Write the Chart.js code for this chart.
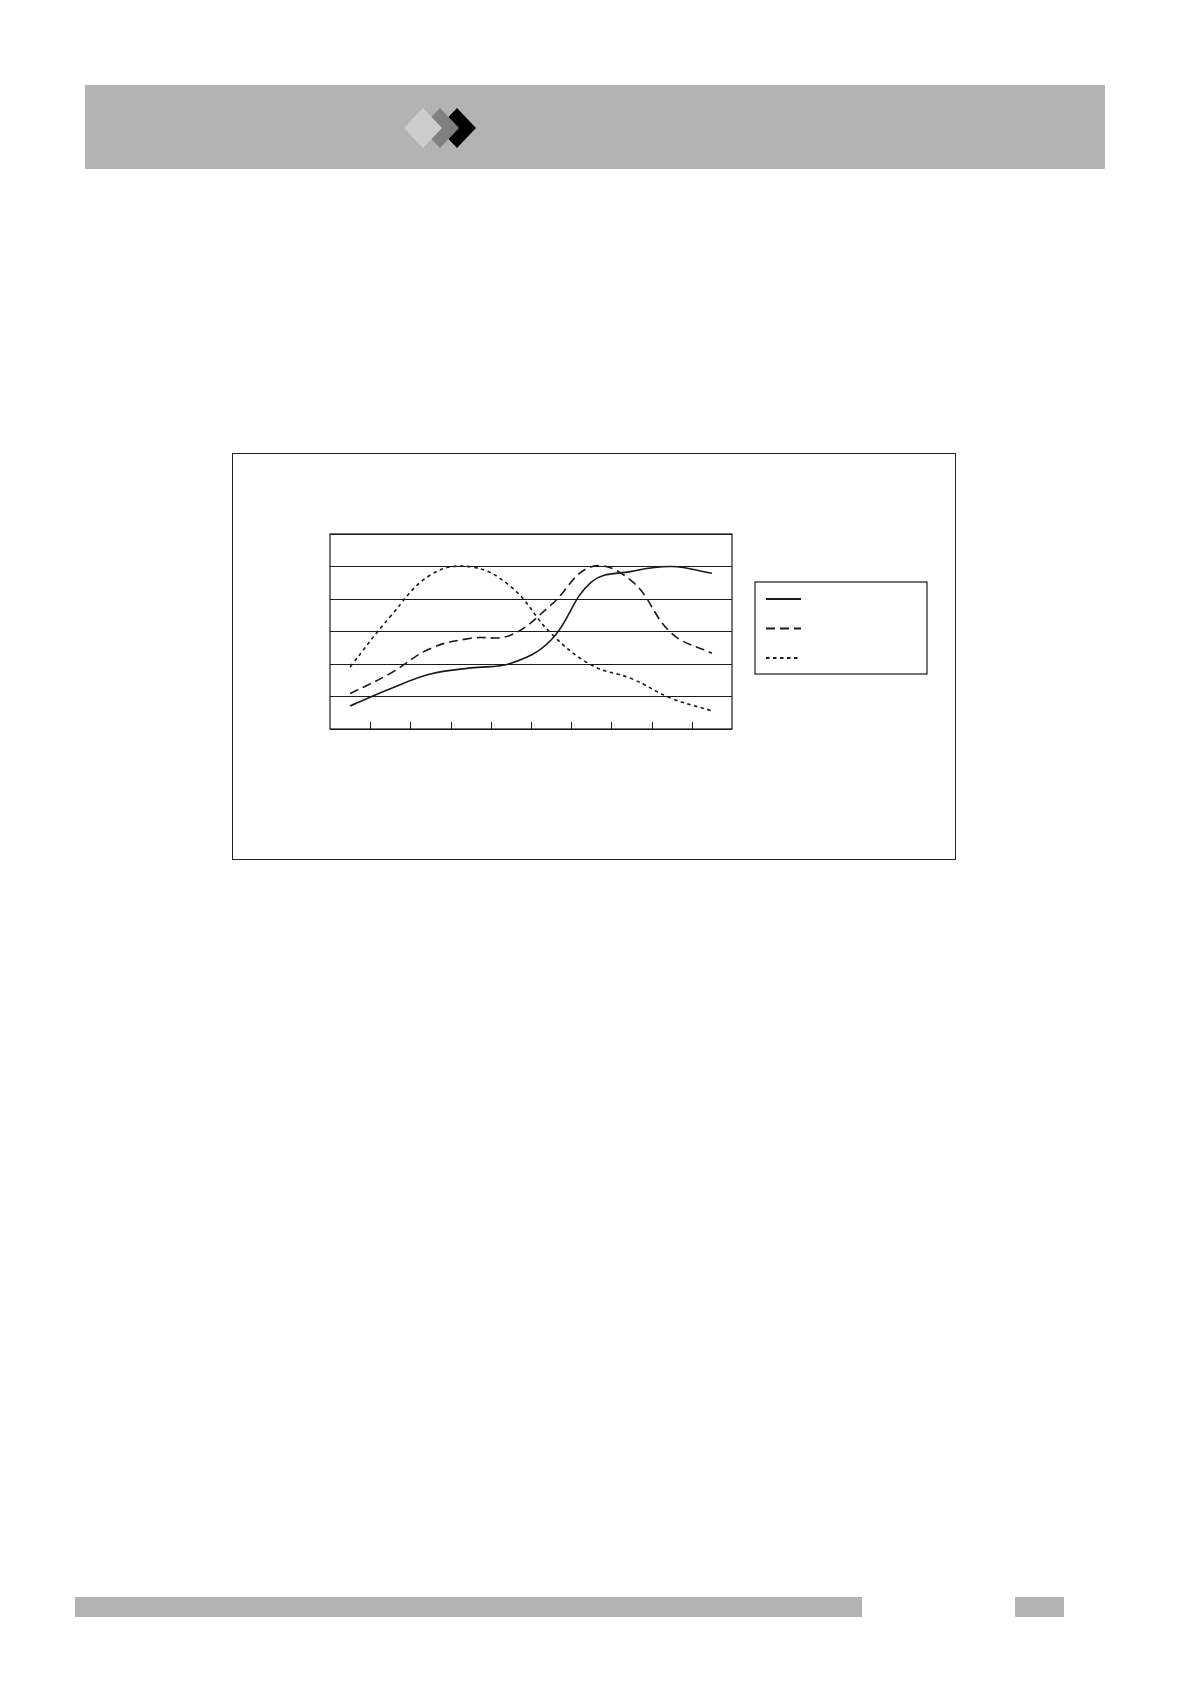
<!DOCTYPE html>
<html>
<head>
<meta charset="utf-8">
<script src="https://cdn.jsdelivr.net/npm/chart.js@4/dist/chart.umd.min.js"></script>
<style>
    body { margin: 0; background: #fff; width: 1190px; height: 1684px; position: relative; font-family: "Liberation Sans", Arial, sans-serif; }
    .header { position: absolute; left: 85px; top: 85px; width: 1020px; height: 84px; background: #b3b3b3; }
    .header svg { position: absolute; left: 0; top: 0; }
    .chartBox { position: absolute; left: 232px; top: 453px; width: 722px; height: 405px; border: 1px solid #222; background: #fff; }
    .chartBox canvas { position: absolute; left: 0; top: 0; }
    .footBar { position: absolute; left: 75px; top: 1597px; width: 787px; height: 20px; background: #b3b3b3; }
    .footBox { position: absolute; left: 1015px; top: 1597px; width: 49px; height: 20px; background: #b3b3b3; }
</style>
</head>
<body>
<div class="header">
    <svg width="1020" height="84">
        <polygon points="353,43 372,23 391,43 372,63" fill="#000"/>
        <polygon points="336,43 355,23 374,43 355,63" fill="#808080"/>
        <polygon points="319,43 338,23 357,43 338,63" fill="#cccccc"/>
    </svg>
</div>
<div class="chartBox">
    <canvas id="mainChart" width="722" height="405"></canvas>
</div>
<div class="footBar"></div>
<div class="footBox"></div>

<script>
// ten categories, no labels visible in the picture
const categories = ['', '', '', '', '', '', '', '', '', ''];
const seriesNames = ['', '', ''];
const solidValues  = [0.71, 1.24, 1.69, 1.88, 2.02, 2.74, 4.52, 4.85, 5.0, 4.79];
const dashedValues = [1.09, 1.71, 2.48, 2.79, 2.89, 3.82, 4.99, 4.56, 2.94, 2.33];
const dottedValues = [1.91, 3.46, 4.74, 4.99, 4.38, 2.94, 1.97, 1.55, 0.94, 0.56];
const yTicks = [0, 1, 2, 3, 4, 5, 6];

const ink = '#1a1a1a';

// frame round the plot + short tick marks pointing up from the bottom edge
const plotFrame = {
    id: 'plotFrame',
    beforeDatasetsDraw(chart) {
        const ctx = chart.ctx;
        const a = chart.chartArea;
        const xs = chart.scales.x;
        ctx.save();
        ctx.strokeStyle = ink;
        ctx.lineWidth = 1.2;
        ctx.strokeRect(a.left, a.top, a.right - a.left, a.bottom - a.top);
        ctx.lineWidth = 1;
        for (let i = 1; i < categories.length; i++) {
            const x = Math.round((xs.getPixelForValue(i - 1) + xs.getPixelForValue(i)) / 2) + 0.5;
            ctx.beginPath();
            ctx.moveTo(x, a.bottom);
            ctx.lineTo(x, a.bottom - 7);
            ctx.stroke();
        }
        ctx.restore();
    }
};

// boxed legend to the right of the plot, samples taken from the datasets
const boxLegend = {
    id: 'boxLegend',
    afterDraw(chart) {
        const ctx = chart.ctx;
        const a = chart.chartArea;
        const left = a.right + 23, top = a.top + 48;
        ctx.save();
        ctx.strokeStyle = ink;
        ctx.lineWidth = 1.2;
        ctx.strokeRect(left, top, 172, 92);
        chart.data.datasets.forEach((ds, i) => {
            const y = top + 17 + i * 29.5;
            ctx.setLineDash(ds.borderDash || []);
            ctx.lineWidth = 2;
            ctx.strokeStyle = ds.borderColor;
            ctx.beginPath();
            ctx.moveTo(left + 11, y);
            ctx.lineTo(left + 46, y);
            ctx.stroke();
        });
        ctx.restore();
    }
};

new Chart(document.getElementById('mainChart'), {
    type: 'line',
    data: {
        labels: categories,
        datasets: [{
            label: seriesNames[0],
            data: solidValues,
            borderColor: ink,
            borderWidth: 1.6,
            borderDash: [],
            pointRadius: 0,
            tension: 0.4
        }, {
            label: seriesNames[1],
            data: dashedValues,
            borderColor: ink,
            borderWidth: 1.6,
            borderDash: [9, 5],
            pointRadius: 0,
            tension: 0.4
        }, {
            label: seriesNames[2],
            data: dottedValues,
            borderColor: ink,
            borderWidth: 1.6,
            borderDash: [3.5, 3.5],
            pointRadius: 0,
            tension: 0.4
        }]
    },
    options: {
        responsive: false,
        animation: false,
        layout: { padding: { left: 97, top: 80, right: 223, bottom: 130 } },
        plugins: {
            legend: { display: false },
            tooltip: { enabled: false },
            title: { display: false }
        },
        scales: {
            x: {
                offset: true,
                grid: { display: false, drawTicks: false },
                ticks: { display: false },
                border: { display: false }
            },
            y: {
                min: yTicks[0],
                max: yTicks[yTicks.length - 1],
                afterBuildTicks: (scale) => { scale.ticks = yTicks.map(v => ({ value: v })); },
                grid: { color: ink, lineWidth: 1, drawTicks: false },
                ticks: { display: false },
                border: { display: false }
            }
        }
    },
    plugins: [plotFrame, boxLegend]
});
</script>
</body>
</html>
